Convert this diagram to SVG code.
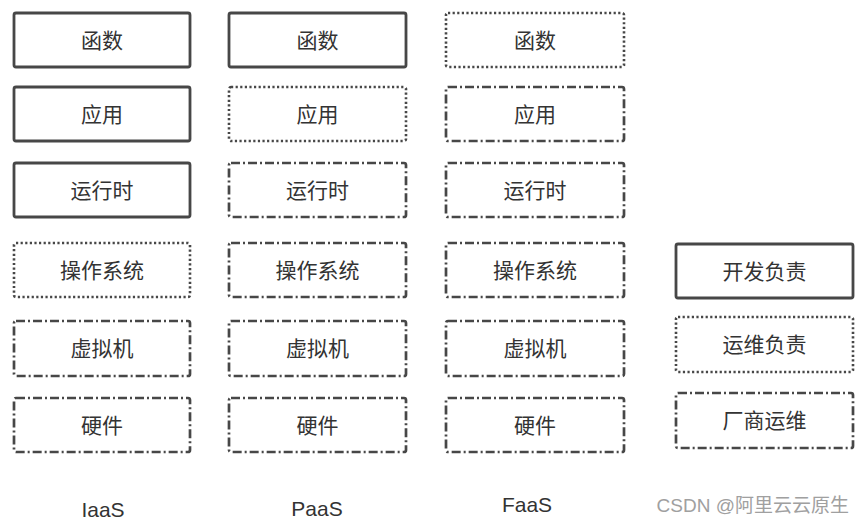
<svg xmlns="http://www.w3.org/2000/svg" width="865" height="524" viewBox="0 0 865 524">
<style>
.box{fill:none;stroke:#474747;}
.solid{stroke-width:2.8;}
.dot{stroke-width:2.6;stroke-dasharray:2.2 2.4;}
.dd{stroke-width:2.7;stroke-dasharray:9 3 2 3;}
.t{font-family:"Noto Sans CJK SC",sans-serif;font-size:21px;fill:#333;text-anchor:middle;dominant-baseline:central;}
.lbl{font-family:"Liberation Sans","Noto Sans",sans-serif;font-size:21px;fill:#333;text-anchor:middle;}
.wm{font-family:"Liberation Sans","Noto Sans CJK SC",sans-serif;font-size:19px;fill:#a0a0a0;text-anchor:end;}
</style>
<rect width="865" height="524" fill="#fff"/>
<g id="iaas">
<g id="iaas-func"><rect class="box solid" x="14" y="13" width="176" height="54" rx="2"/><text class="t" x="102" y="39">函数</text></g>
<g id="iaas-app"><rect class="box solid" x="14" y="87" width="176" height="54" rx="2"/><text class="t" x="102" y="113">应用</text></g>
<g id="iaas-rt"><rect class="box solid" x="14" y="163" width="176" height="54" rx="2"/><text class="t" x="102" y="189">运行时</text></g>
<g id="iaas-os"><rect class="box dot" x="14" y="243" width="176" height="54" rx="2"/><text class="t" x="102" y="269">操作系统</text></g>
<g id="iaas-vm"><rect class="box dd" x="14" y="321" width="176" height="55" rx="2"/><text class="t" x="102" y="347">虚拟机</text></g>
<g id="iaas-hw"><rect class="box dd" x="14" y="398" width="176" height="54" rx="2"/><text class="t" x="102" y="424">硬件</text></g>
<text id="iaas-label" class="lbl" x="103" y="517">IaaS</text>
</g>
<g id="paas">
<g id="paas-func"><rect class="box solid" x="229" y="13" width="177" height="54" rx="2"/><text class="t" x="317.5" y="39">函数</text></g>
<g id="paas-app"><rect class="box dot" x="229" y="87" width="177" height="54" rx="2"/><text class="t" x="317.5" y="113">应用</text></g>
<g id="paas-rt"><rect class="box dd" x="229" y="163" width="177" height="54" rx="2"/><text class="t" x="317.5" y="189">运行时</text></g>
<g id="paas-os"><rect class="box dd" x="229" y="243" width="177" height="54" rx="2"/><text class="t" x="317.5" y="269">操作系统</text></g>
<g id="paas-vm"><rect class="box dd" x="229" y="321" width="177" height="55" rx="2"/><text class="t" x="317.5" y="347">虚拟机</text></g>
<g id="paas-hw"><rect class="box dd" x="229" y="398" width="177" height="54" rx="2"/><text class="t" x="317.5" y="424">硬件</text></g>
<text id="paas-label" class="lbl" x="317" y="516">PaaS</text>
</g>
<g id="faas">
<g id="faas-func"><rect class="box dot" x="446" y="13" width="178" height="54" rx="2"/><text class="t" x="535" y="39">函数</text></g>
<g id="faas-app"><rect class="box dd" x="446" y="87" width="178" height="54" rx="2"/><text class="t" x="535" y="113">应用</text></g>
<g id="faas-rt"><rect class="box dd" x="446" y="163" width="178" height="54" rx="2"/><text class="t" x="535" y="189">运行时</text></g>
<g id="faas-os"><rect class="box dd" x="446" y="243" width="178" height="54" rx="2"/><text class="t" x="535" y="269">操作系统</text></g>
<g id="faas-vm"><rect class="box dd" x="446" y="321" width="178" height="55" rx="2"/><text class="t" x="535" y="347">虚拟机</text></g>
<g id="faas-hw"><rect class="box dd" x="446" y="398" width="178" height="54" rx="2"/><text class="t" x="535" y="424">硬件</text></g>
<text id="faas-label" class="lbl" x="527" y="512">FaaS</text>
</g>
<g id="legend">
<g id="legend-dev"><rect class="box solid" x="676" y="244" width="177" height="54" rx="2"/><text class="t" x="764.5" y="270">开发负责</text></g>
<g id="legend-ops"><rect class="box dot" x="676" y="317" width="177" height="55" rx="2"/><text class="t" x="764.5" y="343">运维负责</text></g>
<g id="legend-vendor"><rect class="box dd" x="676" y="393" width="177" height="55" rx="2"/><text class="t" x="764.5" y="419">厂商运维</text></g>
</g>
<g id="connectors"></g>
<text class="wm" x="849" y="512">CSDN @阿里云云原生</text>
</svg>
